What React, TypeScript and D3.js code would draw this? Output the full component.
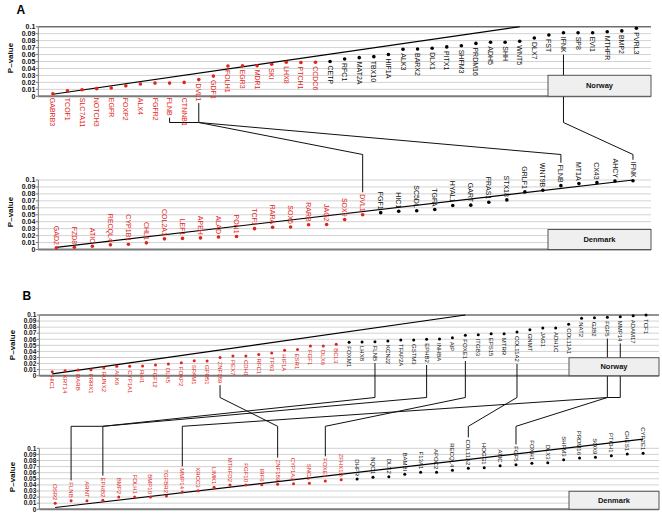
import React from 'react';
import * as d3 from 'd3';

// ---------- DATA ----------
const genesANorway = ["GABRB3","TCOF1","SLC7A11","NOTCH3","EGFR","FOXP2","ALX4","FGFR2","FLNB","CTNNB1","DVL1","GDF1","FOLH1","EGR3","MDR1","SKI","LHX8","PTCH1","CCDC6","CETP","RFC1","MAT2A","TBX10","HIF1A","ALK3","BARX2","DLX1","PITX1","SHFM3","PRDM16","ADH5","SHH","WNT5","DLX7","FST","IFNK","SP8","EVI1","MTHFR","BMP2","PVRL3"];
const pvalsANorway = [0.0037,0.008,0.0095,0.011,0.012,0.015,0.0177,0.019,0.019,0.020,0.024,0.029,0.0435,0.044,0.044,0.046,0.049,0.0485,0.049,0.050,0.0536,0.0555,0.057,0.060,0.0675,0.068,0.069,0.071,0.0727,0.076,0.0776,0.0776,0.079,0.0838,0.088,0.0914,0.0914,0.0914,0.0928,0.094,0.0977];
const nSigANorway = 19;
const trendANorway: [number, number][] = [[0, 0.003], [32, 0.1]];

const genesADenmark = ["GAD2","FZD8","ATIC","RECQL4","CYP1B1","CHL1","COL2A1","LEF1","APEH","ALAD","PON1","TCF1","RARA","SOX5","RARB","JAG2","SOX9","DVL1","FGF1","HIC1","SC5DL","TGFA","HYAL1","GART","FRAS1","STX18","GRLF1","WNT9B","FLNB","MT1A","CX43","AHCY","IFNK"];
const pvalsADenmark = [0.0024,0.0033,0.0047,0.0067,0.0076,0.0096,0.0153,0.016,0.0167,0.018,0.0186,0.030,0.032,0.0324,0.0357,0.036,0.043,0.050,0.053,0.055,0.0557,0.0576,0.0633,0.0638,0.068,0.0714,0.0829,0.0852,0.0919,0.0948,0.0962,0.0986,0.099];
const nSigADenmark = 18;
const trendADenmark: [number, number][] = [[0, 0.003], [32, 0.1]];

const genesBNorway = ["HIC1","KRT14","RARB","PRRX1","RUNX2","ALK6","CYP1A1","RAI1","FGF12","DLX5","FOXP2","SPAM1","GPR51","ZNF189","PEX7","CDH1","RFC1","TP63","HIF1A","ESR1","FGF1","DLX6","BCL3","FOXM1","LHX8","FLNB","KCNJ2","TFAP2A","GSTM3","EPHB2","INHBA","AIP","FOXE1","ITGB3","EPS15","MTRR","COL11A2","GNMT","JAG1","ADH1C","COL11A1","NAT2","GJB2","FGF5","MMP14","ADAM17","TCF1"];
const pvalsBNorway = [0.0066,0.0082,0.0094,0.0099,0.0132,0.0155,0.0155,0.016,0.0176,0.0193,0.0214,0.0247,0.0242,0.030,0.0325,0.0325,0.035,0.0374,0.0418,0.043,0.049,0.049,0.0517,0.055,0.0555,0.056,0.057,0.0588,0.0588,0.060,0.0605,0.0626,0.0665,0.0676,0.0692,0.069,0.072,0.0758,0.0786,0.0786,0.0847,0.0946,0.0956,0.0962,0.0972,0.0989,0.1];
const nSigBNorway = 23;
const trendBNorway: [number, number][] = [[0, 0.003], [32, 0.1]];

const genesBDenmark = ["OSR2","FLNB","ARNT","EPHB2","BMP2","FOLH1","BMP10","TGFBR2","MMP14","XRCC3","LIMK1","MTHFD2","FGF10","IRF6","ZNF189","CYP1A2","SNCA","FOXE1","ZFHX1B","DHFR","NQO1","DLX2","BAMBI","F13A1","APOC2","RECQL4","COL11A2","HOGG1","ATIC","FGF5","FOXH1","DLX3","SHFM3","PRDM16","SOX9","PTCH1","CHES1","CYP2E1"];
const pvalsBDenmark = [0.0098,0.0141,0.0141,0.0148,0.0202,0.0202,0.0202,0.0218,0.0284,0.0305,0.036,0.0398,0.0398,0.0403,0.041,0.042,0.0426,0.0464,0.0485,0.0497,0.0525,0.0534,0.0574,0.0607,0.0607,0.0639,0.0672,0.0682,0.0715,0.0731,0.0754,0.0764,0.0813,0.0841,0.0852,0.0879,0.0907,0.0918];
const nSigBDenmark = 19;
const trendBDenmark: [number, number][] = [[0, 0.003], [37, 0.115]];

const yTickValues = [0, 0.01, 0.02, 0.03, 0.04, 0.05, 0.06, 0.07, 0.08, 0.09, 0.1];
const yTickLabels = ["0", "0.01", "0.02", "0.03", "0.04", "0.05", "0.06", "0.07", "0.08", "0.09", "0.1"];

// connections: Norway gene -> Denmark gene (optional join genes for shared bars)
const linksA = [
  { g: "FLNB", join1: "DVL1" },
  { g: "DVL1" },
  { g: "IFNK" },
];
const linksB = [
  { g: "FLNB", join2: "EPHB2" },
  { g: "EPHB2" },
  { g: "ZNF189" },
  { g: "FOXE1" },
  { g: "COL11A2" },
  { g: "FGF5" },
  { g: "MMP14", join1: "FGF5" },
];

// ---------- STYLE ----------
const FONT = '"Liberation Sans", Arial, Helvetica, sans-serif';
const RED = '#e2231a';
const GRID = '#d3d3d3';
const AXIS = '#7a7a7a';

let ctx: CanvasRenderingContext2D | null = null;
function textWidth(t: string, fs: number, weight = 'normal') {
  if (!ctx && typeof document !== 'undefined') {
    const c = document.createElement('canvas');
    ctx = c.getContext('2d');
  }
  if (ctx) {
    ctx.font = `${weight} ${fs}px ${FONT}`;
    return ctx.measureText(t).width;
  }
  return t.length * fs * 0.62;
}

type Cfg = {
  genes: string[]; pvals: number[]; nSig: number; trend: [number, number][];
  kind: 'norway' | 'denmark'; xRange: [number, number]; yRange: [number, number];
  fs: number; tickFs: number; r: number; box: { w: number; h: number }; title: string;
  labelFloor: boolean; ylabelPos: [number, number];
};

function build(cfg: Cfg) {
  const x = d3.scalePoint<string>().domain(cfg.genes).range(cfg.xRange).padding(1);
  const y = d3.scaleLinear().domain([0, 0.1]).range(cfg.yRange);
  const axisY = y(0);
  const labels = cfg.genes.map((g, i) => {
    const px = x(g) as number;
    const py = y(cfg.pvals[i]);
    const w = textWidth(g, cfg.fs);
    const red = i < cfg.nSig;
    let start: number, end: number;
    if (cfg.kind === 'norway') {
      start = py + 4;
      if (cfg.labelFloor && red && axisY - py < 15.5) start = Math.max(start, axisY + 1.5);
      end = start + w;
    } else {
      end = py - 3;
      start = end - w;
    }
    return { g, px, py, start, end, red };
  });
  return { x, y, labels, cfg };
}

function Panel({ p }: { p: ReturnType<typeof build> }) {
  const { x, y, labels, cfg } = p;
  const [x0, x1] = cfg.xRange;
  const line = d3.line<[number, number]>()
    .x(d => x(cfg.genes[d[0]]) as number)
    .y(d => y(d[1]));
  return (
    <g>
      {yTickValues.map((v, i) => {
        if (v === 0) return null;
        const top = v === 0.1 && cfg.kind === 'norway';
        return (
          <line key={'g' + i} x1={x0} x2={x1} y1={y(v)} y2={y(v)}
            stroke={top ? '#6e6e6e' : GRID} strokeWidth={top ? 1.6 : 1} />
        );
      })}
      <line x1={x0} x2={x0} y1={y(0)} y2={y(0.1)} stroke={AXIS} strokeWidth={1} />
      {yTickValues.map((v, i) => (
        <g key={'t' + i}>
          <line x1={x0 - 2.5} x2={x0} y1={y(v)} y2={y(v)} stroke={AXIS} />
          <text x={x0 - 3} y={y(v)} dy="0.35em" textAnchor="end" fontFamily={FONT}
            fontWeight="bold" fontSize={cfg.tickFs} fill="#111">{yTickLabels[i]}</text>
        </g>
      ))}
      <line x1={x0} x2={x1} y1={y(0)} y2={y(0)} stroke={AXIS} strokeWidth={2} />
      <text transform={`translate(${cfg.ylabelPos[0]},${cfg.ylabelPos[1]}) rotate(-90)`}
        textAnchor="middle" dy="0.35em" fontFamily={FONT} fontWeight="bold" fontSize={8} fill="#111">P–value</text>
      <path d={line(cfg.trend) || ''} fill="none" stroke="#000" strokeWidth={1.1} />
      {labels.map((l, i) => (
        <g key={'p' + i}>
          <circle cx={l.px} cy={l.py} r={cfg.r} fill={l.red ? RED : '#000'} />
          <text transform={`translate(${l.px},${cfg.kind === 'norway' ? l.start : l.end}) rotate(90)`}
            textAnchor={cfg.kind === 'norway' ? 'start' : 'end'} dy="0.35em"
            fontFamily={FONT} fontSize={cfg.fs} fill={l.red ? RED : '#111'}>{l.g}</text>
        </g>
      ))}
    </g>
  );
}

function Box({ p }: { p: ReturnType<typeof build> }) {
  const { y, cfg } = p;
  const x1 = cfg.xRange[1];
  const yb = y(0);
  return (
    <g>
      <rect x={x1 - cfg.box.w} y={yb - cfg.box.h} width={cfg.box.w} height={cfg.box.h}
        fill="#efefef" stroke="#555" strokeWidth={1} />
      <text x={x1 - cfg.box.w / 2} y={yb - cfg.box.h / 2} dy="0.35em" textAnchor="middle"
        fontFamily={FONT} fontWeight="bold" fontSize={7.5} fill="#111">{cfg.title}</text>
    </g>
  );
}

function links(nor: ReturnType<typeof build>, den: ReturnType<typeof build>,
  list: { g: string; join1?: string; join2?: string }[], bend1: number, bend2: number) {
  const find = (p: ReturnType<typeof build>, g: string) => p.labels.find(l => l.g === g)!;
  return list.map((c, i) => {
    const a = find(nor, c.g);
    const b = find(den, c.g);
    let d = `M${a.px},${a.end + 2}V${bend1}`;
    if (c.join1) d += `H${find(nor, c.join1).px}`;
    if (c.join2) {
      d += `L${find(den, c.join2).px},${bend2}H${b.px}`;
    } else {
      d += `L${b.px},${bend2}`;
    }
    d += `V${Math.max(bend2, b.start - 2)}`;
    return <path key={i} d={d} fill="none" stroke="#111" strokeWidth={1} />;
  });
}

export default function App() {
  const a1 = build({ genes: genesANorway, pvals: pvalsANorway, nSig: nSigANorway, trend: trendANorway,
    kind: 'norway', xRange: [38.3, 651], yRange: [96.3, 26.7], fs: 7, tickFs: 7, r: 1.8,
    box: { w: 103, h: 21 }, title: 'Norway', labelFloor: true, ylabelPos: [10, 58] });
  const a2 = build({ genes: genesADenmark, pvals: pvalsADenmark, nSig: nSigADenmark, trend: trendADenmark,
    kind: 'denmark', xRange: [38.3, 651], yRange: [249.5, 180], fs: 7, tickFs: 7, r: 1.8,
    box: { w: 103, h: 20 }, title: 'Denmark', labelFloor: false, ylabelPos: [10, 212] });
  const b1 = build({ genes: genesBNorway, pvals: pvalsBNorway, nSig: nSigBNorway, trend: trendBNorway,
    kind: 'norway', xRange: [39.3, 659], yRange: [375.7, 315], fs: 6, tickFs: 6.5, r: 1.5,
    box: { w: 90, h: 18 }, title: 'Norway', labelFloor: false, ylabelPos: [12, 345] });
  const b2 = build({ genes: genesBDenmark, pvals: pvalsBDenmark, nSig: nSigBDenmark, trend: trendBDenmark,
    kind: 'denmark', xRange: [39.3, 659], yRange: [509.3, 448.3], fs: 6, tickFs: 6.5, r: 1.5,
    box: { w: 90, h: 18 }, title: 'Denmark', labelFloor: false, ylabelPos: [12, 477] });

  return (
    <svg width={662} height={515} style={{ position: 'absolute', left: 0, top: 0, background: '#fff' }}>
      <rect width={662} height={515} fill="#fff" />
      <text x={16.5} y={13.5} fontFamily={FONT} fontWeight="bold" fontSize={12}>A</text>
      <text x={22.5} y={300} fontFamily={FONT} fontWeight="bold" fontSize={12}>B</text>
      <Panel p={a1} />
      <Panel p={a2} />
      <Panel p={b1} />
      <Panel p={b2} />
      {links(a1, a2, linksA, 122.5, 154.5)}
      {links(b1, b2, linksB, 397.5, 426.3)}
      <Box p={a1} />
      <Box p={a2} />
      <Box p={b1} />
      <Box p={b2} />
    </svg>
  );
}
